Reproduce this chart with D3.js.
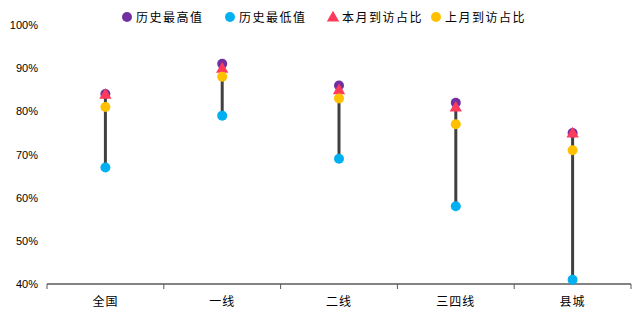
<!DOCTYPE html>
<html>
<head>
<meta charset="utf-8">
<script src="https://cdn.jsdelivr.net/npm/d3@7"></script>
<style>
	body { margin: 0; background: #fff; }
	svg { display: block; }
</style>
</head>
<body>
<svg id="chart" width="640" height="321"></svg>
<script>
const categories = ['全国', '一线', '二线', '三四线', '县城'];
const histMax = [84, 91, 86, 82, 75];
const histMin = [67, 79, 69, 58, 41];
const thisMonth = [84, 90, 85, 81, 75];
const lastMonth = [81, 88, 83, 77, 71];
const yTicks = [40, 50, 60, 70, 80, 90, 100];

const seriesNames = ['历史最高值', '历史最低值', '本月到访占比', '上月到访占比'];
const seriesColors = ['#7030A0', '#00B0F0', '#FF3B5C', '#FFC000'];

let svg = d3.select('#chart');
let margin = { top: 25, right: 9, bottom: 37, left: 47 };
let width = +svg.attr('width') - margin.left - margin.right;
let height = +svg.attr('height') - margin.top - margin.bottom;

let x = d3.scaleBand().domain(categories).range([0, width]);
let y = d3.scaleLinear().domain([40, 100]).range([height, 0]);

let g = svg.append('g').attr('transform', 'translate(' + margin.left + ',' + margin.top + ')');

// y labels, no axis line
g.append('g')
	.call(d3.axisLeft(y).tickValues(yTicks).tickFormat((d) => d + '%').tickSize(0).tickPadding(9))
	.call((a) => a.select('.domain').remove())
	.selectAll('text')
	.attr('font-family', 'Liberation Sans, Arial, sans-serif')
	.attr('font-size', 11)
	.attr('fill', '#000');

// x axis with ticks between categories
let xAxis = g.append('g').attr('transform', 'translate(0,' + height + ')');
xAxis.append('line')
	.attr('x1', 0).attr('x2', width)
	.attr('stroke', '#595959').attr('stroke-width', 1.3);
xAxis.selectAll('.tk')
	.data(d3.range(categories.length + 1))
	.enter().append('line')
	.attr('x1', (i) => i * x.step()).attr('x2', (i) => i * x.step())
	.attr('y1', 0).attr('y2', 5)
	.attr('stroke', '#595959').attr('stroke-width', 1);
xAxis.selectAll('text')
	.data(categories)
	.enter().append('text')
	.attr('x', (d) => x(d) + x.bandwidth() / 2)
	.attr('y', 22)
	.attr('text-anchor', 'middle')
	.attr('font-family', 'Noto Sans CJK SC, sans-serif')
	.attr('font-size', 12)
	.attr('letter-spacing', 1)
	.attr('fill', '#000')
	.text((d) => d);

let cx = (i) => x(categories[i]) + x.bandwidth() / 2;

// range lines
g.selectAll('.range')
	.data(categories)
	.enter().append('line')
	.attr('x1', (d, i) => cx(i)).attr('x2', (d, i) => cx(i))
	.attr('y1', (d, i) => y(histMin[i])).attr('y2', (d, i) => y(histMax[i]))
	.attr('stroke', '#404040').attr('stroke-width', 3);

let drawDots = (vals, color) => {
	g.append('g').selectAll('circle')
		.data(vals)
		.enter().append('circle')
		.attr('cx', (d, i) => cx(i))
		.attr('cy', (d) => y(d))
		.attr('r', 5)
		.attr('fill', color);
};

drawDots(histMax, seriesColors[0]);
drawDots(histMin, seriesColors[1]);

let tri = d3.symbol().type(d3.symbolTriangle).size(66);
g.append('g').selectAll('path')
	.data(thisMonth)
	.enter().append('path')
	.attr('d', tri)
	.attr('transform', (d, i) => 'translate(' + cx(i) + ',' + (y(d) + 1) + ')')
	.attr('fill', seriesColors[2]);

drawDots(lastMonth, seriesColors[3]);

// legend
let legendX = [127, 230, 333, 436];
let legend = svg.append('g').selectAll('g')
	.data(seriesNames)
	.enter().append('g')
	.attr('transform', (d, i) => 'translate(' + legendX[i] + ',17)');
legend.each(function (d, i) {
	let item = d3.select(this);
	if (i === 2) {
		item.append('path').attr('d', d3.symbol().type(d3.symbolTriangle).size(66)).attr('transform', 'translate(0,1)').attr('fill', seriesColors[i]);
	} else {
		item.append('circle').attr('r', 5).attr('fill', seriesColors[i]);
	}
});
legend.append('text')
	.attr('x', 9)
	.attr('y', 4.5)
	.attr('font-family', 'Noto Sans CJK SC, sans-serif')
	.attr('font-size', 12)
	.attr('letter-spacing', 1.5)
	.attr('fill', '#000')
	.text((d) => d);
</script>
</body>
</html>
